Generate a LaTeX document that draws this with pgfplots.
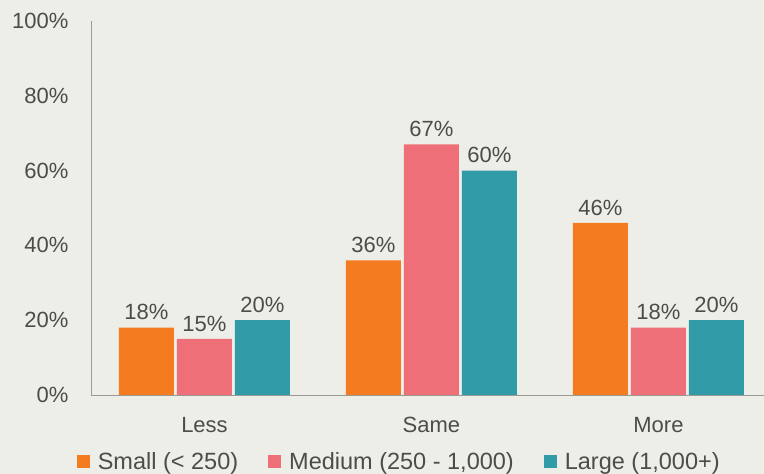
\documentclass[border=0pt]{standalone}
\usepackage{fontspec}
\setmainfont{Liberation Sans}
\usepackage{pgfplots}
\pgfplotsset{compat=1.18}
\definecolor{bgcol}{HTML}{EEEEE9}
\definecolor{cSmall}{HTML}{F47B20}
\definecolor{cMed}{HTML}{EE6F77}
\definecolor{cLarge}{HTML}{329BA8}
\definecolor{txt}{HTML}{4D4D47}
\definecolor{axcol}{HTML}{9A9A95}
\begin{document}
\begin{tikzpicture}
\fill[bgcol] (0,0) rectangle (764pt,474pt);
\useasboundingbox (0,0) rectangle (764pt,474pt);
\begin{axis}[
  at={(91pt,79pt)}, anchor=south west,
  scale only axis, width=673pt, height=374pt,
  xmin=-0.5, xmax=2.465, ymin=0, ymax=100,
  ybar=3pt, bar width=55pt,
  axis lines*=left, axis line style={axcol, line width=0.9pt},
  x axis line style={-}, y axis line style={-},
  xtick={0,1,2}, xticklabels={Less,Same,More},
  ytick={0,20,40,60,80,100},
  yticklabel={\pgfmathprintnumber{\tick}\%},
  /pgf/number format/assume math mode=true,
  major tick length=0pt,
  tick label style={font=\fontsize{22}{24}\selectfont, text=txt},
  yticklabel style={xshift=-19pt},
  xticklabel style={yshift=-19pt},
  nodes near coords={\pgfmathprintnumber{\pgfplotspointmeta}\%},
  nodes near coords style={font=\fontsize{22}{24}\selectfont, text=txt, yshift=4pt},
  legend columns=3,
  legend style={draw=none, fill=none, at={(0.458,-0.179)}, anchor=center,
    font=\fontsize{23.5}{25}\selectfont, text=txt,
    /tikz/every odd column/.append style={column sep=6pt},
    /tikz/every even column/.append style={column sep=28pt},
    inner sep=0pt},
  legend image code/.code={\fill[#1] (0pt,-6.5pt) rectangle (13pt,6.5pt);},
]
\addplot[fill=cSmall, draw=none] coordinates {(0,18) (1,36) (2,46)};
\addplot[fill=cMed, draw=none] coordinates {(0,15) (1,67) (2,18)};
\addplot[fill=cLarge, draw=none] coordinates {(0,20) (1,60) (2,20)};
\legend{{Small (< 250)}, {Medium (250 - 1,000)}, {Large (1,000+)}}
\end{axis}
\end{tikzpicture}
\end{document}
